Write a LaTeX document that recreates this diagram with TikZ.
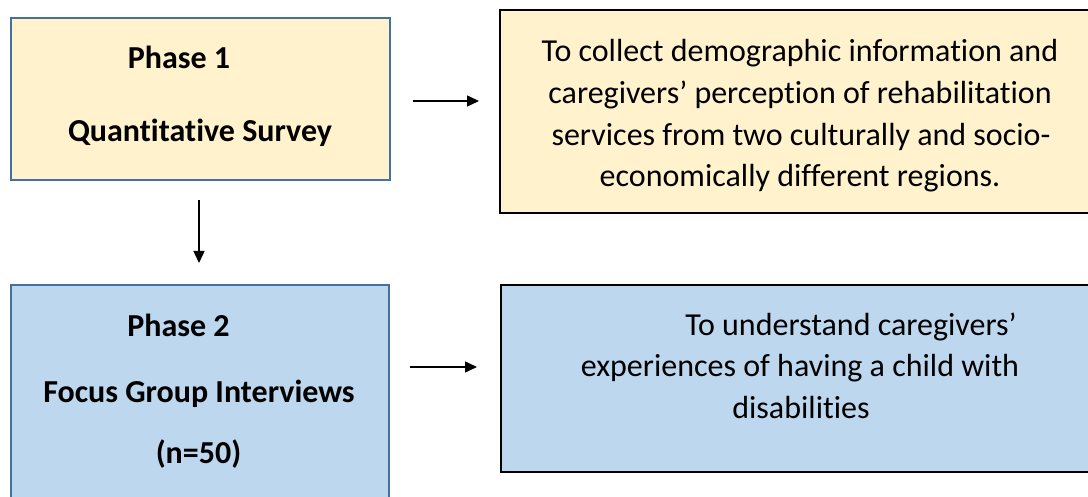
\documentclass[tikz,border=0pt]{standalone}
\usepackage{fontspec}
\setmainfont[Ligatures={NoCommon}]{Carlito}
\usetikzlibrary{arrows.meta}
\definecolor{yfill}{HTML}{FFF2CC}
\definecolor{bfill}{HTML}{BDD7EE}
\definecolor{bborder}{HTML}{41719C}
\tikzset{
  leftbox/.style={draw=bborder, line width=1.5pt},
  rightbox/.style={draw=black, line width=1.5pt},
  btxt/.style={font=\fontsize{32}{36}\selectfont\bfseries, inner sep=0pt, anchor=base},
  rtxt/.style={font=\fontsize{32}{36}\selectfont, inner sep=0pt, anchor=base},
  conn/.style={line width=1.5pt, -{Triangle[length=12pt,width=11pt]}}
}
\begin{document}
\begin{tikzpicture}[x=1pt,y=-1pt]
\useasboundingbox (0,0) rectangle (1088,497);
\fill[white] (0,0) rectangle (1088,497);
% boxes
\draw[leftbox, fill=yfill] (11,18) rectangle (390,180);
\draw[rightbox, fill=yfill] (500,10) rectangle (1095,213);
\draw[leftbox, fill=bfill] (11,285) rectangle (389,505);
\draw[rightbox, fill=bfill] (501,285) rectangle (1095,472);
% texts
\node[btxt] (p1) at (179,69) {Phase 1};
\node[btxt] (qs) at (200,142) {Quantitative Survey};
\node[btxt] (p2) at (178.5,337) {Phase 2};
\node[btxt] (fg) at (199,402) {Focus Group Interviews};
\node[btxt] (n50) at (198.5,463) {(n=50)};
\node[rtxt] (t1) at (800,62) {To collect demographic information and};
\node[rtxt] (t2) at (800,104) {caregivers’ perception of rehabilitation};
\node[rtxt] (t3) at (801,146) {services from two culturally and socio-};
\node[rtxt] (t4) at (800,187) {economically different regions.};
\node[rtxt] (u1) at (851,336) {To understand caregivers’};
\node[rtxt] (u2) at (800,377) {experiences of having a child with};
\node[rtxt] (u3) at (801,418) {disabilities};
% arrows
\coordinate (a1s) at (413,101);
\coordinate (a1e) at (479,101);
\coordinate (a2s) at (199,200);
\coordinate (a2e) at (199,263);
\coordinate (a3s) at (410,367);
\coordinate (a3e) at (477,367);
\draw[conn] (a1s) -- (a1e);
\draw[conn] (a2s) -- (a2e);
\draw[conn] (a3s) -- (a3e);
\end{tikzpicture}
\end{document}
